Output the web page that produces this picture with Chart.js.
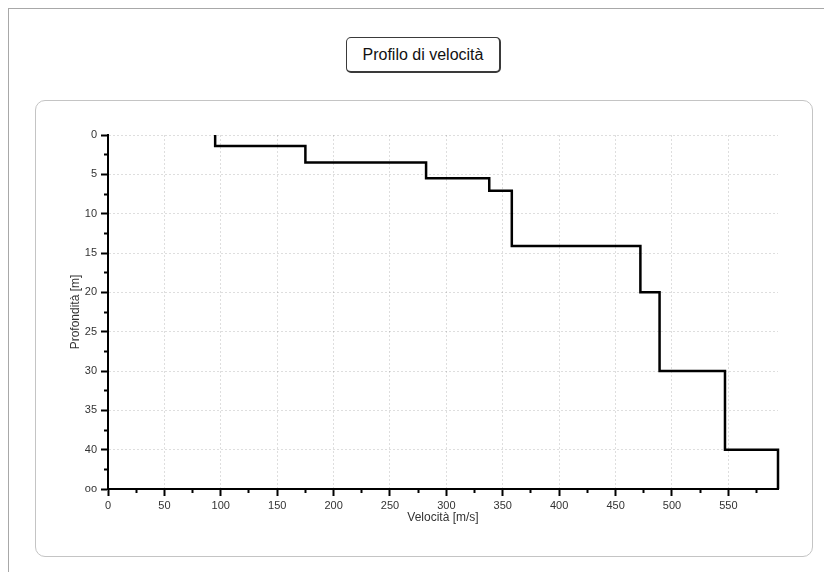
<!DOCTYPE html>
<html>
<head>
<meta charset="utf-8">
<script src="https://cdn.jsdelivr.net/npm/chart.js@4/dist/chart.umd.min.js"></script>
<style>
  html, body { margin: 0; padding: 0; background: #fff; width: 824px; height: 572px; overflow: hidden; }
  #frame { position: absolute; left: 8px; top: 8px; right: 0; bottom: 0; border-top: 1px solid #a8a8a8; border-left: 1px solid #a8a8a8; }
  #panel { position: absolute; left: 35px; top: 100px; width: 776px; height: 455px; border: 1px solid #c4c4c4; border-radius: 10px; }
  #title { position: absolute; left: 346px; top: 37px; width: 152px; height: 33px; border: 1px solid #3a3a3a; border-right-width: 2px; border-bottom-width: 2px; border-radius: 5px;
           font: 16px "Liberation Sans", Arial, sans-serif; color: #111; text-align: center; line-height: 33px; }
  #canvas { position: absolute; left: 0; top: 0; }
</style>
</head>
<body>
<div id="frame"></div>
<div id="panel"></div>
<div id="title">Profilo di velocità</div>
<canvas id="canvas" width="824" height="572"></canvas>
<script>
// layer boundaries (m) and shear wave velocity of each layer (m/s)
var layerDepths = [0, 1.4, 3.5, 5.5, 7.1, 14.1, 20, 30, 40, 45];
var layerVelocities = [95, 175, 282, 338, 358, 472, 489, 547, 594];

var xTickValues = [0, 25, 50, 75, 100, 125, 150, 175, 200, 225, 250, 275, 300, 325, 350, 375, 400, 425, 450, 475, 500, 525, 550, 575];
var xTickLabels = ['0', '50', '100', '150', '200', '250', '300', '350', '400', '450', '500', '550'];
var yTickValues = [0, 2.5, 5, 7.5, 10, 12.5, 15, 17.5, 20, 22.5, 25, 27.5, 30, 32.5, 35, 37.5, 40, 42.5, 45];
var yTickLabels = ['0', '5', '10', '15', '20', '25', '30', '35', '40', 'oo'];

var points = [];
layerVelocities.forEach(function(v, i) {
    points.push({x: v, y: layerDepths[i]});
    points.push({x: v, y: layerDepths[i + 1]});
});

var font = {family: '"Liberation Sans", Arial, sans-serif', size: 11};
var gridColor = 'rgba(0,0,0,0.13)';

var isMajorX = function(v) { return v % 50 === 0; };
var isMajorY = function(v) { return v % 5 === 0; };

var config = {
    type: 'scatter',
    data: {
        datasets: [{
            data: points,
            showLine: true,
            borderColor: '#000',
            borderWidth: 2.5,
            pointRadius: 0,
            clip: false
        }]
    },
    options: {
        responsive: false,
        animation: false,
        layout: {padding: {left: 64, right: 46, top: 135, bottom: 43}},
        plugins: {legend: {display: false}, title: {display: false}, tooltip: {enabled: false}},
        scales: {
            x: {
                type: 'linear',
                min: 0,
                max: layerVelocities[layerVelocities.length - 1],
                afterBuildTicks: function(scale) {
                    scale.ticks = xTickValues.map(function(v) { return {value: v}; });
                },
                afterFit: function(scale) { scale.height = 40; },
                ticks: {
                    autoSkip: false,
                    maxRotation: 0,
                    padding: 3,
                    color: '#333',
                    font: font,
                    callback: function(v) { return isMajorX(v) ? xTickLabels[v / 50] : ''; }
                },
                grid: {
                    color: function(ctx) { return ctx.tick && isMajorX(ctx.tick.value) ? gridColor : 'rgba(0,0,0,0)'; },
                    lineWidth: 1,
                    tickColor: '#000',
                    tickWidth: 2,
                    tickLength: 7,
                    tickBorderDash: function(ctx) { return ctx.tick && isMajorX(ctx.tick.value) ? [] : [3, 20]; }
                },
                border: {display: true, color: '#000', width: 2, dash: [2, 2]},
                title: {display: true, text: 'Velocità [m/s]', color: '#333', font: {family: font.family, size: 12}, padding: 4}
            },
            y: {
                type: 'linear',
                reverse: true,
                min: 0,
                max: 45,
                afterBuildTicks: function(scale) {
                    scale.ticks = yTickValues.map(function(v) { return {value: v}; });
                },
                afterFit: function(scale) { scale.width = 44; },
                ticks: {
                    autoSkip: false,
                    padding: 4,
                    color: '#333',
                    font: font,
                    callback: function(v) { return isMajorY(v) ? yTickLabels[v / 5] : ''; }
                },
                grid: {
                    color: function(ctx) { return ctx.tick && isMajorY(ctx.tick.value) ? gridColor : 'rgba(0,0,0,0)'; },
                    lineWidth: 1,
                    tickColor: '#000',
                    tickWidth: 2,
                    tickLength: 7,
                    tickBorderDash: function(ctx) { return ctx.tick && isMajorY(ctx.tick.value) ? [] : [0, 3, 3, 20]; }
                },
                border: {display: true, color: '#000', width: 2, dash: [2, 2]},
                title: {display: true, text: 'Profondità [m]', color: '#333', font: {family: font.family, size: 12}, padding: 4}
            }
        }
    }
};

window.myChart = new Chart(document.getElementById('canvas'), config);
</script>
</body>
</html>
